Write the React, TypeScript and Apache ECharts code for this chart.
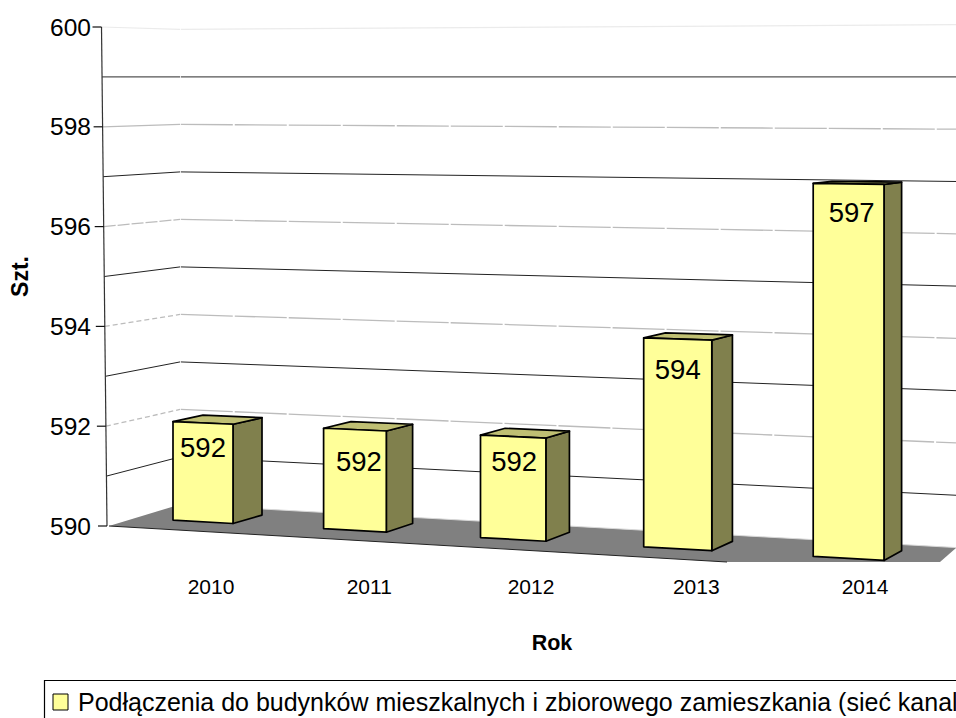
import React, { useEffect, useRef } from "react";
import * as echarts from "echarts";

const years = ["2010", "2011", "2012", "2013", "2014"];
const connections = [592, 592, 592, 594, 597];
const gridValues = [591, 592, 593, 594, 595, 596, 597, 598, 599, 600];
const tickValues = [590, 592, 594, 596, 598, 600];
const seriesName = "Podłączenia do budynków mieszkalnych i zbiorowego zamieszkania (sieć kanal";

const FONT = '"Liberation Sans", Arial, sans-serif';
const W = 956, H = 718;
const GRID = { left: 104, top: 27, width: 852, height: 499 };
const band = GRID.width / years.length;

// Perspective layout of the 3D scene: every height comes from the value axis and is
// scaled about the level of 599, where all wall lines meet.
const PIVOT = 599, VMIN = 590;
const lerp = (a: number, b: number, t: number) => a + (b - a) * t;
const kBackWall = (x: number) => lerp(0.952, 1.048, (x - 180) / 776);
const kBarFront = (x: number) => (520 + (x - 173) * 0.0567 - 76.9) / 449;
const kBarBack = (x: number) => (515 + (x - 262) * 0.0559 - 76.9) / 449;
const depthX = (x: number) => 29 - (x - 233) * 0.0175;
const axisX = (y: number) => 101.5 + ((y - 27) / 499) * 5.5;
const labelDx = [0, 4, 1, 0, 3];
const labelDy = [26, 33, 26, 32, 29];

const renderWalls = (_: any, api: any) => {
  const v = api.value(1);
  const p = api.coord([0, PIVOT])[1];
  const y = api.coord([0, v])[1];
  const at = (k: number) => p + (y - p) * k;
  const xl = axisX(y);
  const isMajor = (v - VMIN) % 2 === 0;
  let stroke = "#222";
  let lw = 1;
  let dashL: any = null, dashB: any = null;
  if (v === 600) { stroke = "#ebebeb"; lw = 1.2; }
  else if (v === 599) { stroke = "#555"; lw = 1.3; }
  else if (isMajor) {
    stroke = "#bcbcbc"; lw = 1.3;
    dashB = [52, 2];
    dashL = v <= 594 ? [5, 3] : v === 596 ? [12, 2] : null;
  }
  const children: any[] = [
    { type: "line", shape: { x1: xl, y1: y, x2: 180, y2: at(kBackWall(180)) }, style: { stroke, lineWidth: lw, lineDash: dashL } },
    { type: "line", shape: { x1: 180.8, y1: at(kBackWall(180)), x2: 956, y2: at(kBackWall(956)) }, style: { stroke, lineWidth: lw, lineDash: dashB } },
  ];
  return { type: "group", children };
};

const renderFloor = (_: any, api: any) => {
  const p = api.coord([0, PIVOT])[1];
  const y = api.coord([0, VMIN])[1];
  const at = (k: number) => p + (y - p) * k;
  const children: any[] = [
    {
      type: "polygon",
      shape: { points: [[axisX(y) + 2, y], [180, at(kBackWall(180))], [956, at(kBackWall(956))], [956, y + 22], [940, y + 36], [727, y + 36]] },
      style: { fill: "#808080" },
    },
    { type: "line", shape: { x1: 180, y1: at(kBackWall(180)), x2: 956, y2: at(kBackWall(956)) }, style: { stroke: "#d8d8d8", lineWidth: 1 } },
    { type: "line", shape: { x1: axisX(y) + 2, y1: y, x2: 727, y2: y + 36 }, style: { stroke: "#222", lineWidth: 1 } },
    { type: "line", shape: { x1: 101.5, y1: api.coord([0, 600])[1], x2: axisX(y), y2: y }, style: { stroke: "#333", lineWidth: 1.2 } },
    ...tickValues.map((v) => {
      const ty = api.coord([0, v])[1];
      return { type: "line", shape: { x1: axisX(ty) - 9, y1: ty, x2: axisX(ty), y2: ty }, style: { stroke: "#111", lineWidth: 1.2 } };
    }),
  ];
  return { type: "group", children };
};

const renderBar = (_: any, api: any) => {
  const i = api.value(0);
  const v = api.value(1);
  const t = (api.coord([i, v])[0] - (GRID.left + band / 2)) / band;
  const cx = 203 + 148.8 * t + 3.15 * t * t;
  const w = 60 + 2.7 * t;
  const xl = cx - w / 2, xr = cx + w / 2;
  const p = api.coord([0, PIVOT])[1];
  const yTop = api.coord([i, v])[1];
  const yBase = api.coord([i, VMIN])[1];
  const proj = (c: number, k: number) => p + (c - p) * k;
  const bl = xl + depthX(xl), br = xr + depthX(xr);
  const edge = { stroke: "#000", lineWidth: 1.7, lineJoin: "round" };
  const labelX = 211 + 156.5 * t + 1.75 * t * t;
  const children: any[] = [
    {
      type: "polygon",
      shape: { points: [[xr, proj(yTop, kBarFront(xr))], [br, proj(yTop, kBarBack(br))], [br, proj(yBase, kBarBack(br))], [xr, proj(yBase, kBarFront(xr))]] },
      style: { fill: "#80804d", ...edge },
    },
    {
      type: "polygon",
      shape: { points: [[xl, proj(yTop, kBarFront(xl))], [xr, proj(yTop, kBarFront(xr))], [br, proj(yTop, kBarBack(br))], [bl, proj(yTop, kBarBack(bl))]] },
      style: { fill: "#bfbf73", ...edge },
    },
    {
      type: "polygon",
      shape: { points: [[xl, proj(yTop, kBarFront(xl))], [xr, proj(yTop, kBarFront(xr))], [xr, proj(yBase, kBarFront(xr))], [xl, proj(yBase, kBarFront(xl))]] },
      style: { fill: "#ffff99", ...edge },
    },
    {
      type: "text",
      style: {
        text: String(v),
        x: cx + labelDx[i],
        y: proj(yTop, kBarFront(xl)) + labelDy[i],
        fill: "#000",
        font: `27.5px ${FONT}`,
        align: "center",
        verticalAlign: "middle",
      },
    },
    {
      type: "text",
      style: {
        text: years[i],
        x: labelX,
        y: 586,
        fill: "#000",
        font: `21px ${FONT}`,
        align: "center",
        verticalAlign: "middle",
      },
    },
  ];
  return { type: "group", children };
};

export default function App() {
  const ref = useRef<HTMLDivElement>(null);
  useEffect(() => {
    document.body.style.margin = "0";
    document.body.style.overflow = "hidden";
    const chart = echarts.init(ref.current!, undefined, { renderer: "svg" });
    chart.setOption({
      animation: false,
      backgroundColor: "#fff",
      textStyle: { fontFamily: FONT },
      grid: { ...GRID, containLabel: false, outerBoundsMode: "none" },
      xAxis: {
        type: "category",
        data: years,
        axisLine: { show: false },
        axisTick: { show: false },
        axisLabel: { show: false },
      },
      yAxis: {
        type: "value",
        min: 590,
        max: 600,
        interval: 2,
        splitLine: { show: false },
        axisLine: { show: false },
        axisTick: { show: false },
        axisLabel: { color: "#000", fontSize: 24.5, margin: 13, fontFamily: FONT },
        name: "Szt.",
        nameLocation: "middle",
        nameGap: 73,
        nameRotate: 90,
        nameTextStyle: { color: "#000", fontSize: 23, fontWeight: "bold", fontFamily: FONT },
      },
      legend: {
        left: 44.5,
        top: 680.5,
        padding: [9, 30, 30, 8],
        data: [{ name: seriesName, icon: "rect", itemStyle: { color: "#ffff99", borderColor: "#000", borderWidth: 1 } }],
        itemWidth: 15,
        itemHeight: 16,
        borderColor: "#000",
        borderWidth: 1.2,
        textStyle: { color: "#000", fontSize: 25, fontFamily: FONT, padding: [0, 0, 0, 5] },
      },
      graphic: [
        {
          type: "text",
          style: { text: "Rok", x: 552, y: 643, fill: "#000", font: `bold 21.5px ${FONT}`, align: "center", verticalAlign: "middle" },
        },
      ],
      series: [
        { type: "custom", name: "walls", silent: true, clip: false, renderItem: renderWalls, encode: { x: 0, y: 1 }, data: gridValues.map((v) => [0, v]), coordinateSystem: "cartesian2d" },
        { type: "custom", name: "floor", silent: true, clip: false, renderItem: renderFloor, encode: { x: 0, y: 1 }, data: [[0, VMIN]], coordinateSystem: "cartesian2d" },
        { type: "custom", name: seriesName, silent: true, clip: false, renderItem: renderBar, encode: { x: 0, y: 1 }, data: years.map((_, i) => [i, connections[i]]), coordinateSystem: "cartesian2d", itemStyle: { color: "#ffff99" } },
      ],
    });
    return () => chart.dispose();
  }, []);
  return <div ref={ref} style={{ position: "absolute", left: 0, top: 0, width: W, height: H }} />;
}
